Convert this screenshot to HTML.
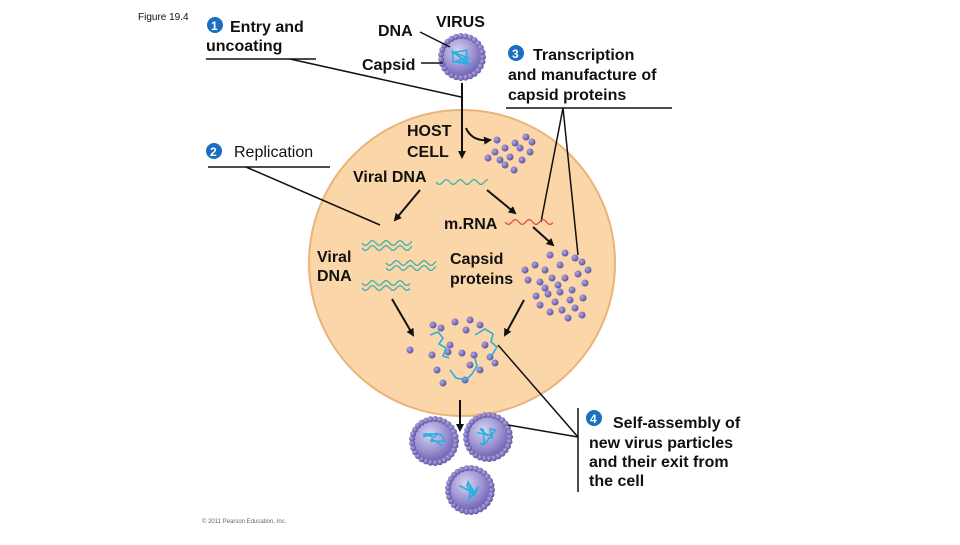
<!DOCTYPE html>
<html><head><meta charset="utf-8">
<style>
body{margin:0;background:#fff;width:960px;height:540px;overflow:hidden}
svg text{font-family:"Liberation Sans",Arial,sans-serif;font-weight:bold;fill:#111}
</style></head><body>
<svg id="s" width="960" height="540" viewBox="0 0 960 540" xmlns="http://www.w3.org/2000/svg">
<defs>
<radialGradient id="vg" cx="40%" cy="35%" r="65%"><stop offset="0" stop-color="#d8d4f0"/><stop offset="0.6" stop-color="#9a90d0"/><stop offset="1" stop-color="#6a5fb0"/></radialGradient>
<radialGradient id="dg" cx="35%" cy="35%" r="70%"><stop offset="0" stop-color="#b0a8e0"/><stop offset="1" stop-color="#5a4fa0"/></radialGradient>
<marker id="ah" markerWidth="8" markerHeight="8" refX="6" refY="4" orient="auto" markerUnits="userSpaceOnUse"><path d="M0,0 L8,4 L0,8 z" fill="#111"/></marker>
</defs>
<text x="138" y="20" font-size="10" style="font-weight:normal">Figure 19.4</text>
<circle cx="462" cy="263" r="153" fill="#fbd6a8" stroke="#e8b47a" stroke-width="2"/>
<g id="dots"></g>
<circle cx="215" cy="25" r="8" fill="#1a6fc0"/><text x="211" y="30" font-size="12" style="fill:#fff">1</text>
<text x="230" y="32" font-size="16">Entry and</text>
<text x="206" y="51" font-size="16">uncoating</text>
<line x1="206" y1="59" x2="316" y2="59" stroke="#111" stroke-width="1.5"/>
<circle cx="214" cy="151" r="8" fill="#1a6fc0"/><text x="210" y="156" font-size="12" style="fill:#fff">2</text>
<text x="234" y="157" font-size="16" style="font-weight:normal">Replication</text>
<line x1="208" y1="167" x2="330" y2="167" stroke="#111" stroke-width="1.5"/>
<line x1="246" y1="167" x2="380" y2="225" stroke="#111" stroke-width="1.5"/>
<line x1="290" y1="59" x2="461" y2="97" stroke="#111" stroke-width="1.5"/>
<text x="378" y="36" font-size="16">DNA</text>
<text x="436" y="27" font-size="16">VIRUS</text>
<text x="362" y="70" font-size="16">Capsid</text>
<line x1="420" y1="32" x2="450" y2="47" stroke="#111" stroke-width="1.5"/>
<line x1="421" y1="63" x2="443" y2="63" stroke="#111" stroke-width="1.5"/>
<circle cx="516" cy="53" r="8" fill="#1a6fc0"/><text x="512" y="58" font-size="12" style="fill:#fff">3</text>
<text x="533" y="60" font-size="16">Transcription</text>
<text x="508" y="80" font-size="16">and manufacture of</text>
<text x="508" y="100" font-size="16">capsid proteins</text>
<line x1="506" y1="108" x2="672" y2="108" stroke="#111" stroke-width="1.5"/>
<line x1="563" y1="108" x2="541" y2="222" stroke="#111" stroke-width="1.5"/>
<line x1="563" y1="108" x2="578" y2="255" stroke="#111" stroke-width="1.5"/>
<text x="407" y="136" font-size="16">HOST</text>
<text x="407" y="157" font-size="16">CELL</text>
<text x="353" y="182" font-size="16">Viral DNA</text>
<text x="444" y="229" font-size="16">m.RNA</text>
<text x="317" y="262" font-size="16">Viral</text>
<text x="317" y="281" font-size="16">DNA</text>
<text x="450" y="264" font-size="16">Capsid</text>
<text x="450" y="284" font-size="16">proteins</text>
<circle cx="594" cy="418" r="8" fill="#1a6fc0"/><text x="590" y="423" font-size="12" style="fill:#fff">4</text>
<text x="613" y="428" font-size="16">Self-assembly of</text>
<text x="589" y="448" font-size="16">new virus particles</text>
<text x="589" y="467" font-size="16">and their exit from</text>
<text x="589" y="486" font-size="16">the cell</text>
<line x1="578" y1="408" x2="578" y2="492" stroke="#111" stroke-width="1.5"/>
<line x1="578" y1="437" x2="498" y2="345" stroke="#111" stroke-width="1.5"/>
<line x1="578" y1="437" x2="508" y2="425" stroke="#111" stroke-width="1.5"/>
<text x="202" y="523" font-size="6" style="font-weight:normal;fill:#666">© 2011 Pearson Education, Inc.</text>
<g stroke="#111" stroke-width="2" fill="none" marker-end="url(#ah)">
<line x1="462" y1="83" x2="462" y2="157"/>
<path d="M466,128 Q472,142 490,140"/>
<line x1="420" y1="190" x2="395" y2="220"/>
<line x1="487" y1="190" x2="515" y2="213"/>
<line x1="533" y1="227" x2="553" y2="245"/>
<line x1="392" y1="299" x2="413" y2="335"/>
<line x1="524" y1="300" x2="505" y2="335"/>
<line x1="460" y1="400" x2="460" y2="430"/>
</g>
<g id="waves" fill="none" stroke-width="1.3"></g>
</svg>
<script>
const N="http://www.w3.org/2000/svg",d=document.getElementById('dots'),w=document.getElementById('waves');
function el(t,a,p){const e=document.createElementNS(N,t);for(const k in a)e.setAttribute(k,a[k]);(p||d).appendChild(e);return e}
function dot(x,y,r){el('circle',{cx:x,cy:y,r:r||3.5,fill:'url(#dg)'})}
function wave(x,y,len,col,amp){let s='M'+x+','+y;for(let i=0;i<=len;i+=2)s+=' L'+(x+i)+','+(y+Math.sin(i/2.2)*amp);el('path',{d:s,stroke:col},w)}
function virus(x,y,r){el('circle',{cx:x,cy:y,r:r,fill:'url(#vg)'});let n=Math.round(r*1.3);for(let i=0;i<n;i++){let a=i/n*2*Math.PI;dot(x+Math.cos(a)*r,y+Math.sin(a)*r,3)}
let s='M'+(x-r*.5)+','+(y-r*.2);for(let i=0;i<10;i++)s+=' L'+(x-r*.5+Math.random()*r)+','+(y-r*.4+Math.random()*r*.8);el('path',{d:s,stroke:'#28b0e0','stroke-width':1.6,fill:'none'})}
virus(462,57,21);virus(434,441,22);virus(488,437,22);virus(470,490,22);
[[497,140],[505,148],[515,143],[526,137],[520,148],[530,152],[510,157],[500,160],[495,152],[522,160],[532,142],[505,165],[488,158],[514,170]].forEach(p=>dot(p[0],p[1]));
let c=[[550,255],[565,253],[575,258],[582,262],[560,265],[545,270],[535,265],[528,280],[540,282],[552,278],[565,278],[578,274],[585,283],[572,290],[560,292],[548,294],[536,296],[540,305],[555,302],[570,300],[583,298],[550,312],[562,310],[575,308],[568,318],[582,315],[588,270],[545,288],[558,285],[525,270]];c.forEach(p=>dot(p[0],p[1]));
[[433,325],[441,328],[455,322],[466,330],[470,320],[480,325],[410,350],[432,355],[448,352],[462,353],[474,355],[485,345],[490,357],[470,365],[480,370],[437,370],[443,383],[465,380],[495,363],[450,345]].forEach(p=>dot(p[0],p[1]));
el('path',{d:'M430,335 l8,-3 5,6 -4,6 7,4 -3,8 6,2',stroke:'#28b0e0','stroke-width':1.6,fill:'none'});
el('path',{d:'M475,335 l10,-6 8,5 -2,8 6,5 -5,8 -3,5',stroke:'#28b0e0','stroke-width':1.6,fill:'none'});
el('path',{d:'M450,370 l6,8 10,2 6,-6 5,-8 -2,-8',stroke:'#28b0e0','stroke-width':1.6,fill:'none'});
wave(436,182,52,'#40b0b0',2.5);wave(505,222,48,'#e05050',2.5);
wave(362,243,50,'#40b0b0',2.5);wave(362,248,50,'#40b0b0',2.5);wave(386,263,50,'#40b0b0',2.5);wave(386,268,50,'#40b0b0',2.5);wave(362,283,48,'#40b0b0',2.5);wave(362,288,48,'#40b0b0',2.5);
</script>
</body></html>
